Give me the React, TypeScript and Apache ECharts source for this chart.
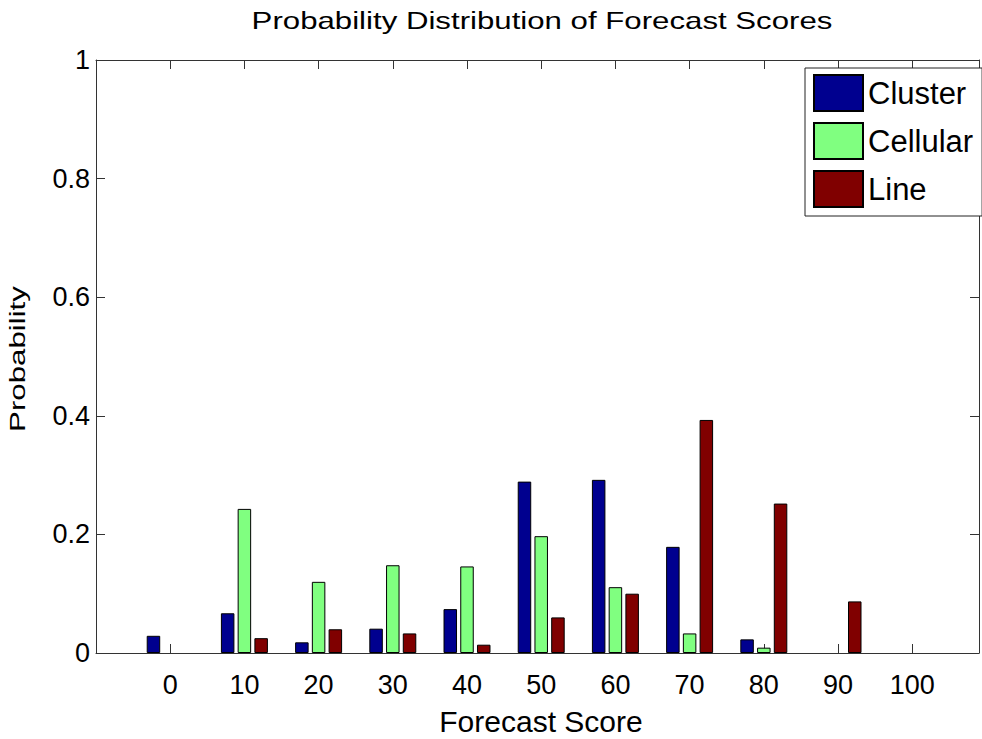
import React, { useEffect, useRef } from "react";
import * as echarts from "echarts";

// Forecast score bins (bar group centres)
const scores = [0, 10, 20, 30, 40, 50, 60, 70, 80, 90, 100];
// Probability per bin for each storm mode
const cluster = [0.029, 0.067, 0.018, 0.041, 0.074, 0.289, 0.292, 0.179, 0.023, 0, 0];
const cellular = [0, 0.243, 0.12, 0.148, 0.146, 0.197, 0.111, 0.033, 0.009, 0, 0];
const lineMode = [0, 0.025, 0.04, 0.033, 0.014, 0.06, 0.1, 0.393, 0.252, 0.087, 0];

const seriesNames = ["Cluster", "Cellular", "Line"];
const seriesValues = [cluster, cellular, lineMode];
const seriesColors = ["#00008f", "#80ff80", "#800000"];

const xTickLabels = ["0", "10", "20", "30", "40", "50", "60", "70", "80", "90", "100"];
const yTickLabels = ["0", "0.2", "0.4", "0.6", "0.8", "1"];

const FONT = "'Liberation Sans', Arial, Helvetica, sans-serif";
const AXIS_COLOR = "#333";

export default function App() {
  const ref = useRef<HTMLDivElement>(null);

  useEffect(() => {
    document.body.style.margin = "0";
    if (!ref.current) return;
    const chart = echarts.init(ref.current, null, { renderer: "svg" });

    const xLabel = (v: number) => {
      const s = String(v);
      return xTickLabels.includes(s) ? s : "";
    };
    const yLabel = (v: number) => {
      const s = String(Math.round(v * 10) / 10);
      return yTickLabels.includes(s) ? s : "";
    };

    const xCommon = {
      type: "value" as const,
      min: -10,
      max: 109,
      interval: 10,
      splitLine: { show: false },
      axisLine: { show: true, onZero: false, lineStyle: { color: AXIS_COLOR, width: 1 } },
      axisTick: { show: true, inside: true, length: 9, lineStyle: { color: AXIS_COLOR } },
    };
    const yCommon = {
      type: "value" as const,
      min: 0,
      max: 1,
      interval: 0.2,
      splitLine: { show: false },
      axisLine: { show: true, onZero: false, lineStyle: { color: AXIS_COLOR, width: 1 } },
      axisTick: { show: true, inside: true, length: 9, lineStyle: { color: AXIS_COLOR } },
    };

    chart.setOption({
      animation: false,
      backgroundColor: "#fff",
      grid: { left: 96, right: 0, top: 60, bottom: 86, containLabel: false },
      xAxis: [
        {
          ...xCommon,
          position: "bottom",
          axisLabel: { fontSize: 27, color: "#000", fontFamily: FONT, margin: 18, formatter: xLabel },
        },
        { ...xCommon, position: "top", axisLabel: { show: false } },
      ],
      yAxis: [
        {
          ...yCommon,
          position: "left",
          axisLabel: { fontSize: 27, color: "#000", fontFamily: FONT, margin: 6, formatter: yLabel },
        },
        { ...yCommon, position: "right", axisLabel: { show: false } },
      ],
      legend: {
        orient: "vertical",
        left: 805,
        top: 68,
        padding: [6, 9, 8, 8],
        itemWidth: 49,
        itemHeight: 36,
        itemGap: 10,
        icon: "rect",
        borderColor: "#222",
        borderWidth: 1,
        backgroundColor: "#fff",
        textStyle: { fontSize: 31, color: "#000", fontFamily: FONT, padding: [5, 0, 0, 0] },
        data: seriesNames,
      },
      series: seriesNames.map((name, i) => ({
        name,
        type: "bar",
        xAxisIndex: 0,
        yAxisIndex: 0,
        barWidth: 13.5,
        barGap: "24%",
        itemStyle: { color: seriesColors[i], borderColor: "#000", borderWidth: 1 },
        data: scores
          .map((s, j) => [s, seriesValues[i][j]])
          .filter((d) => d[1] > 0),
      })),
      graphic: [
        {
          type: "text",
          x: 542,
          y: 21,
          scaleX: 1.3,
          style: {
            text: "Probability Distribution of Forecast Scores",
            fontSize: 24,
            fontFamily: FONT,
            fill: "#000",
            align: "center",
            verticalAlign: "middle",
          },
        },
        {
          type: "text",
          x: 541,
          y: 721,
          style: {
            text: "Forecast Score",
            fontSize: 30,
            fontFamily: FONT,
            fill: "#000",
            align: "center",
            verticalAlign: "middle",
          },
        },
        {
          type: "text",
          x: 18,
          y: 359,
          rotation: Math.PI / 2,
          scaleX: 1.42,
          style: {
            text: "Probability",
            fontSize: 22,
            fontFamily: FONT,
            fill: "#000",
            align: "center",
            verticalAlign: "middle",
          },
        },
      ],
    });

    return () => chart.dispose();
  }, []);

  return <div ref={ref} style={{ width: 982, height: 739 }} />;
}
